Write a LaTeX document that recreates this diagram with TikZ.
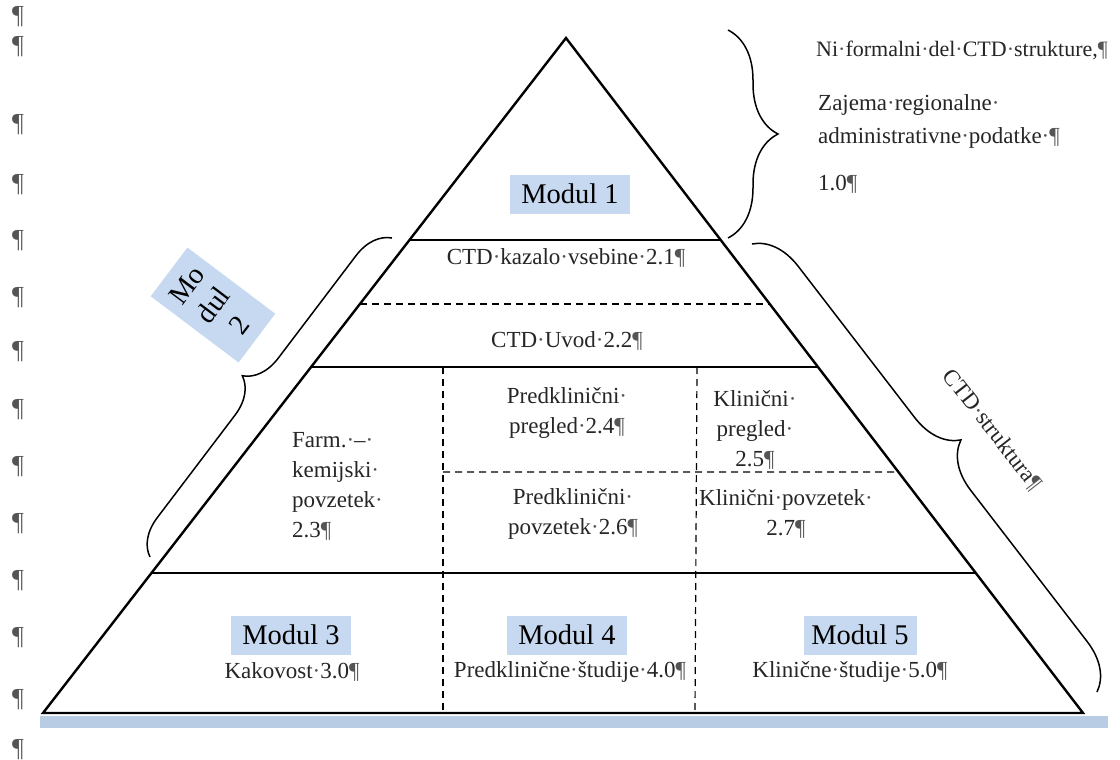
\documentclass[tikz,border=0pt]{standalone}
\usepackage{fontspec}
\setmainfont{Liberation Serif}
\usetikzlibrary{calc,decorations.pathreplacing}
\definecolor{boxblue}{RGB}{198,217,240}
\definecolor{barblue}{RGB}{184,204,228}
\definecolor{markgray}{RGB}{85,85,85}
\newcommand{\pil}{{\color{markgray}¶}}
\newcommand{\md}{{\color{markgray}·}}
\begin{document}
\begin{tikzpicture}[x=1pt,y=-1pt,
  txt/.style={font=\fontsize{23}{30}\selectfont, inner sep=0pt, text=black!85},
  modul/.style={font=\fontsize{28.5}{33}\selectfont, fill=boxblue, inner sep=0pt, minimum width=120pt, minimum height=39pt},
  edge/.style={line width=2.4pt, line join=miter},
  sep/.style={line width=1.6pt},
  dsep/.style={line width=1.2pt, dash pattern=on 7pt off 5pt},
  brc/.style={line width=1.5pt, decorate},
  pmark/.style={font=\fontsize{26}{26}\selectfont, text=markgray, inner sep=0pt}
]
\useasboundingbox (0,0) rectangle (1120,760);
\fill[white] (0,0) rectangle (1120,760);

% left margin paragraph marks
\foreach \yy [count=\i] in {17,47,125,185,241,298,352,410,467,524,581,638,700,750}
  \node[pmark] (pm\i) at (18,\yy) {¶};

% triangle
\coordinate (A) at (566,38);
\coordinate (L) at (43,713);
\coordinate (R) at (1083,713);
\fill[barblue] (40,716) rectangle (1108,728);
\draw[edge] (A) -- (L) -- (R) -- cycle;

% horizontal separators
\coordinate (l1) at ($(A)!0.2993!(L)$); \coordinate (r1) at ($(A)!0.2993!(R)$);
\coordinate (l2) at ($(A)!0.3941!(L)$); \coordinate (r2) at ($(A)!0.3941!(R)$);
\coordinate (l3) at ($(A)!0.4874!(L)$); \coordinate (r3) at ($(A)!0.4874!(R)$);
\coordinate (r4) at ($(A)!0.6430!(R)$);
\coordinate (l5) at ($(A)!0.7926!(L)$); \coordinate (r5) at ($(A)!0.7926!(R)$);
\draw[sep] (l1) -- (r1);
\draw[dsep] (l2) -- (r2);
\draw[sep] (l3) -- (r3);
\draw[sep] (l5) -- (r5);

% vertical dashed separators
\coordinate (v1t) at (443,367); \coordinate (v1b) at (443,713);
\coordinate (v2t) at (697,367); \coordinate (v2b) at (695,713);
\coordinate (v1m) at (443,472);
\draw[dsep] (v1t) -- (v1b);
\draw[dsep] (v2t) -- (v2b);
\draw[dsep] (v1m) -- (r4);

% module labels
\node[modul] (m1) at (570,194) {Modul 1};
\node[modul] (m3) at (291,635) {Modul 3};
\node[modul] (m4) at (567,635) {Modul 4};
\node[modul, minimum width=113pt] (m5) at (860,635) {Modul 5};
\node[modul, rotate=53, minimum width=61pt, minimum height=110pt, align=center] (m2) at (213,305) {Mo\\dul\\2};

% cell texts
\node[txt] (t21) at (566,258) {CTD\md kazalo\md vsebine\md 2.1\pil};
\node[txt] (t22) at (567,341) {CTD\md Uvod\md 2.2\pil};
\node[txt, align=left, anchor=west] (t23) at (292,486) {Farm.\md–\md\\kemijski\md\\povzetek\md\\2.3\pil};
\node[txt, align=center] (t24) at (567,413) {Predklinični\md\\pregled\md 2.4\pil};
\node[txt, align=center] (t25) at (755,430) {Klinični\md\\pregled\md\\2.5\pil};
\node[txt, align=center] (t26) at (573,514) {Predklinični\md\\povzetek\md 2.6\pil};
\node[txt, align=center] (t27) at (786,514) {Klinični\md povzetek\md\\2.7\pil};
\node[txt] (t30) at (292,672) {Kakovost\md 3.0\pil};
\node[txt] (t40) at (570,672) {Predklinične\md študije\md 4.0\pil};
\node[txt] (t50) at (850,672) {Klinične\md študije\md 5.0\pil};

% module 1 description
\node[txt, anchor=west, font=\fontsize{22}{30}\selectfont] (d1) at (816,50) {Ni\md formalni\md del\md CTD\md strukture,\pil};
\node[txt, anchor=west, align=left, font=\fontsize{23}{33}\selectfont] (d2) at (818,121) {Zajema\md regionalne\md\\administrativne\md podatke\md\pil};
\node[txt, anchor=west] (d3) at (818,184) {1.0\pil};

% braces
\coordinate (b1t) at (728,30); \coordinate (b1b) at (728,238);
\draw[brc, decoration={brace, amplitude=50pt}] (b1t) -- (b1b);
\coordinate (b2b) at (150,557); \coordinate (b2t) at (392,238);
\draw[brc, decoration={brace, amplitude=36pt}] (b2b) -- (b2t);
\coordinate (b3t) at (752,244); \coordinate (b3b) at (1097,692);
\draw[brc, decoration={brace, amplitude=46pt}] (b3t) -- (b3b);

\node[txt, rotate=-52] (ctd) at (992,430) {CTD\md struktura\pil};
\end{tikzpicture}
\end{document}
